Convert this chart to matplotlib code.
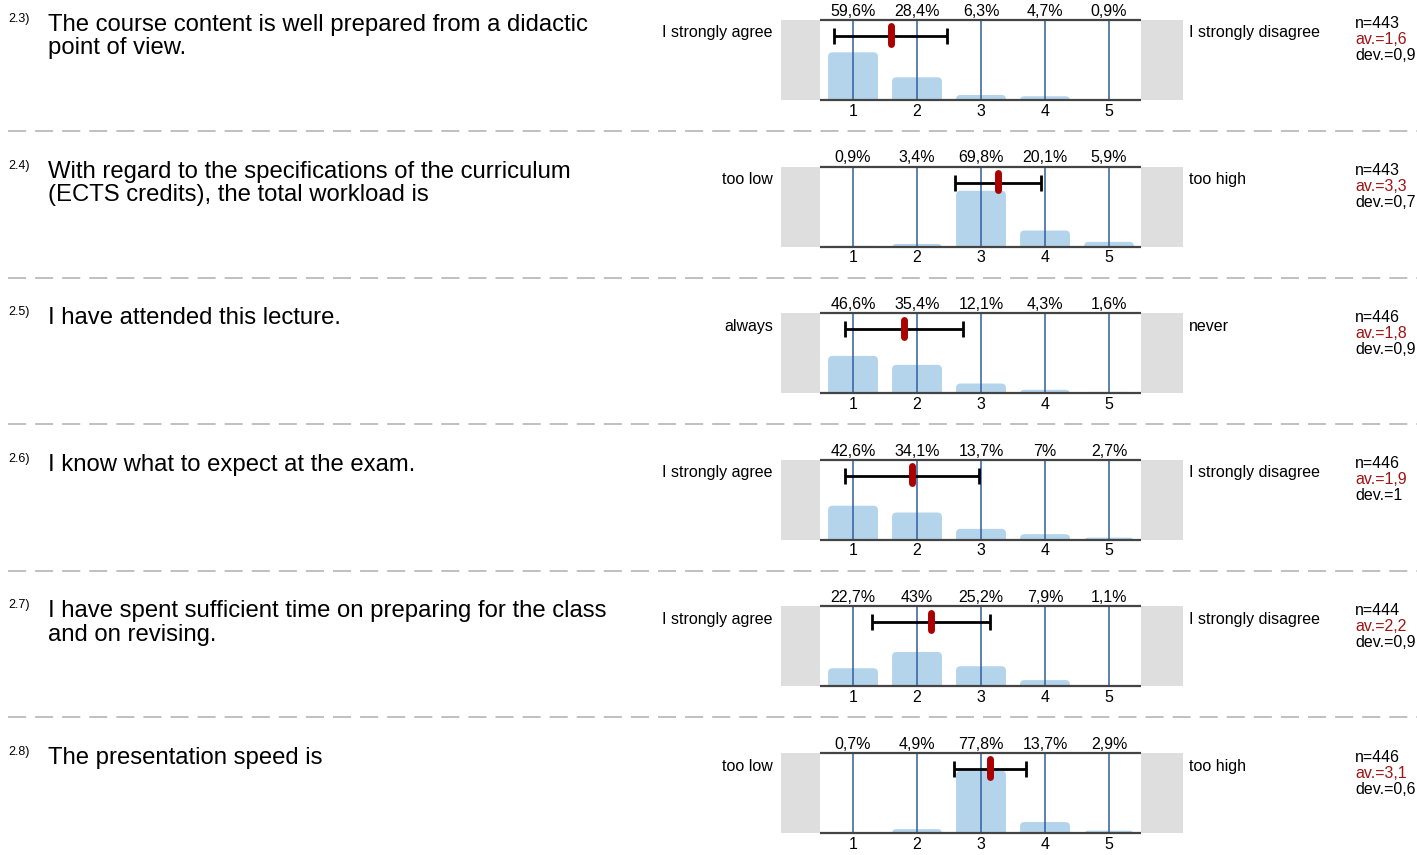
import matplotlib
matplotlib.use('Agg')
import matplotlib.pyplot as plt
from matplotlib.patches import FancyBboxPatch

plt.rcParams['font.family'] = ['Liberation Sans', 'DejaVu Sans']

# --- data ---
numbers = ['2.3)', '2.4)', '2.5)', '2.6)', '2.7)', '2.8)']
questions = [
    'The course content is well prepared from a didactic\npoint of view.',
    'With regard to the specifications of the curriculum\n(ECTS credits), the total workload is',
    'I have attended this lecture.',
    'I know what to expect at the exam.',
    'I have spent sufficient time on preparing for the class\nand on revising.',
    'The presentation speed is',
]
left_labels = ['I strongly agree', 'too low', 'always',
               'I strongly agree', 'I strongly agree', 'too low']
right_labels = ['I strongly disagree', 'too high', 'never',
                'I strongly disagree', 'I strongly disagree', 'too high']
scale = [1, 2, 3, 4, 5]
percents = [
    [59.6, 28.4, 6.3, 4.7, 0.9],
    [0.9, 3.4, 69.8, 20.1, 5.9],
    [46.6, 35.4, 12.1, 4.3, 1.6],
    [42.6, 34.1, 13.7, 7, 2.7],
    [22.7, 43, 25.2, 7.9, 1.1],
    [0.7, 4.9, 77.8, 13.7, 2.9],
]
n_vals = [443, 443, 446, 446, 444, 446]
av_text = ['1,6', '3,3', '1,8', '1,9', '2,2', '3,1']
dev_text = ['0,9', '0,7', '0,9', '1', '0,9', '0,6']
means = [1.59, 3.27, 1.80, 1.92, 2.22, 3.14]
devs = [0.88, 0.67, 0.92, 1.05, 0.92, 0.56]

W, H = 1417, 855
fig = plt.figure(figsize=(W / 100, H / 100), dpi=100)

# background axes in pixel coordinates for texts and separators
bg = fig.add_axes([0, 0, 1, 1])
bg.set_xlim(0, W)
bg.set_ylim(H, 0)
bg.axis('off')

small = 11.5
pitch = 146.6
for i in range(len(questions)):
    top = 20 + i * pitch
    bot = top + 80

    bg.text(8, top - 1, numbers[i], fontsize=9, ha='left', va='center')
    bg.text(48, top - 6, questions[i], fontsize=17.2, ha='left', va='top',
            linespacing=1.08)
    bg.text(773, top + 13, left_labels[i], fontsize=small, ha='right', va='center')
    bg.text(1189, top + 13, right_labels[i], fontsize=small, ha='left', va='center')
    bg.text(1355, top + 4, f'n={n_vals[i]}', fontsize=small, va='center')
    bg.text(1355, top + 20, f'av.={av_text[i]}', fontsize=small, va='center',
            color='#9e1414')
    bg.text(1355, top + 36, f'dev.={dev_text[i]}', fontsize=small, va='center')
    if i < len(questions) - 1:
        bg.plot([8, W], [top + 111, top + 111], color='#bbbbbb', lw=1.3,
                dashes=(10, 5))

    ax = fig.add_axes([781 / W, 1 - bot / H, 402 / W, 80 / H])
    ax.set_xlim(-0.125, 6.156)
    ax.set_ylim(0, 100)
    ax.axis('off')

    ax.axvspan(-0.125, 0.484, color='#dedede', lw=0, zorder=0)
    ax.axvspan(5.5, 6.156, color='#dedede', lw=0, zorder=0)

    for x, p in zip(scale, percents[i]):
        ax.add_patch(FancyBboxPatch((x - 0.39, -8), 0.78, p + 8,
                                    boxstyle='round,pad=0,rounding_size=0.07',
                                    mutation_aspect=80, fc='#b4d4ec', ec='none',
                                    zorder=1))
        lbl = f'{p:g}'.replace('.', ',') + '%'
        ax.annotate(lbl, (x, 100), xytext=(0, 6.2), textcoords='offset points',
                    ha='center', va='center', fontsize=small, annotation_clip=False)
        ax.annotate(str(x), (x, 0), xytext=(0, -8), textcoords='offset points',
                    ha='center', va='center', fontsize=small, annotation_clip=False)

    ax.vlines(scale, 0, 100, color='#2f5f9a', lw=1.1, zorder=2)
    ax.hlines([0, 100], 0.484, 5.5, color='#444444', lw=1.6, zorder=3,
              clip_on=False)

    ax.errorbar(means[i], 80, xerr=devs[i], color='black', lw=2, capsize=6,
                capthick=2, zorder=4)
    ax.plot([means[i], means[i]], [70.5, 92], color='#aa0000', lw=5,
            solid_capstyle='round', zorder=5)

fig.savefig('out.png', dpi=100)
